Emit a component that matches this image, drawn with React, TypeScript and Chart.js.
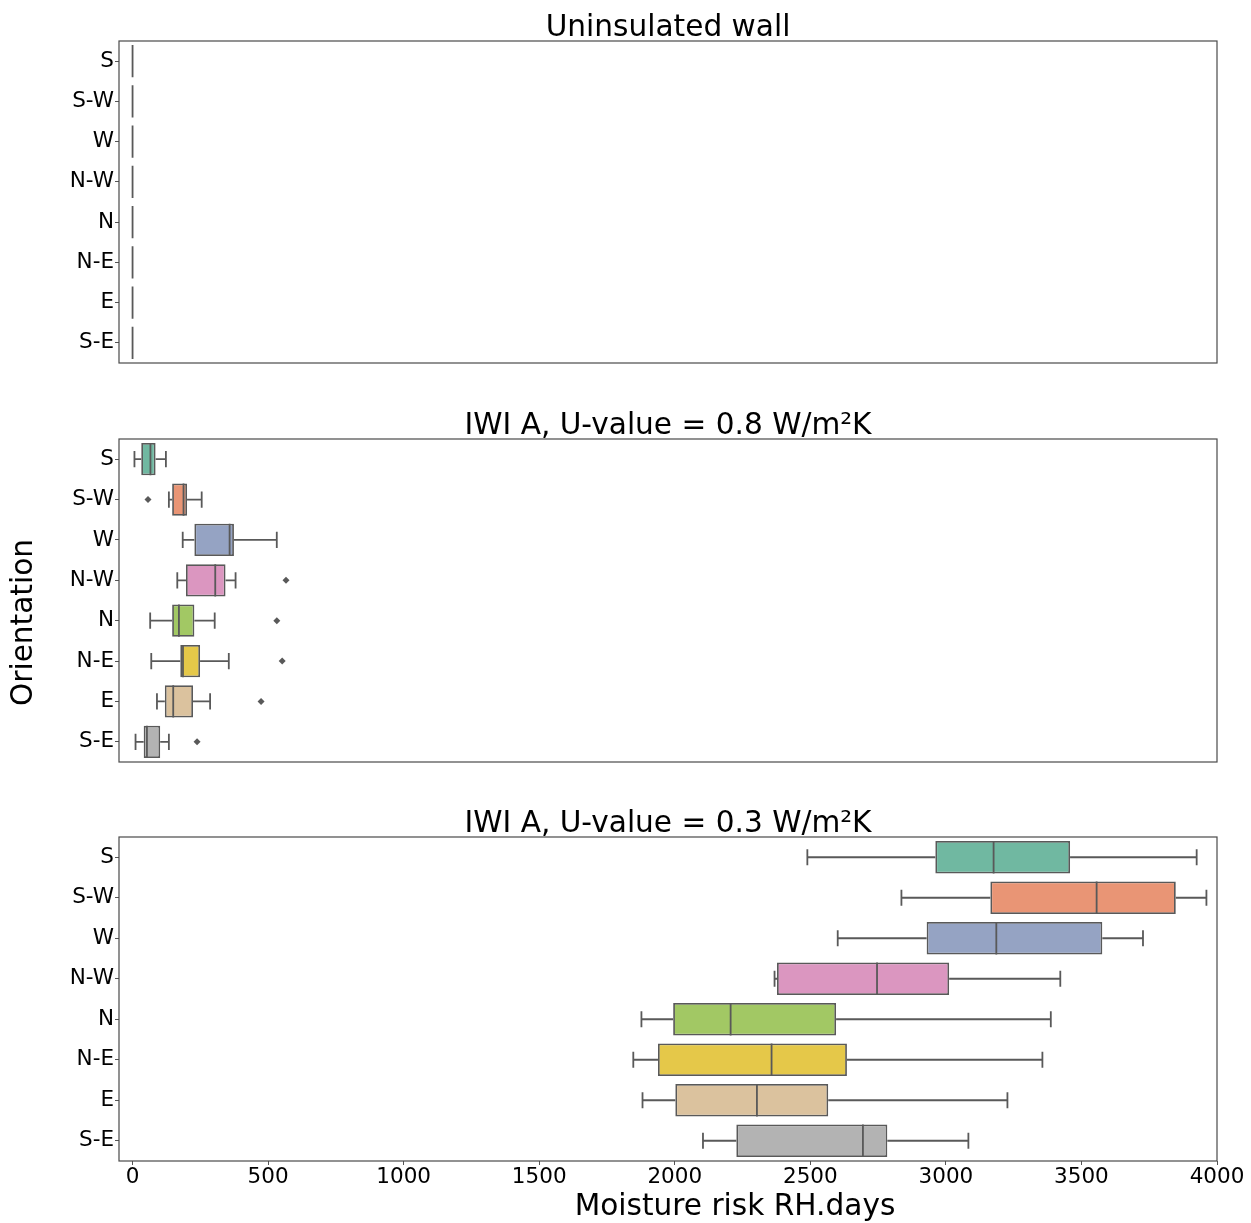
import { useEffect, useRef } from 'react';
import { Chart, registerables } from 'chart.js';

Chart.register(...registerables);

// Orientation categories, top to bottom
const orientations = ['S', 'S-W', 'W', 'N-W', 'N', 'N-E', 'E', 'S-E'];
const xTickValues = [0, 500, 1000, 1500, 2000, 2500, 3000, 3500, 4000];

// One colour per orientation (muted Set2)
const boxColors = ['#70b8a1', '#e99575', '#95a3c3', '#db96c0', '#a2c864', '#e5c849', '#dbc29e', '#b3b3b3'];

// Uninsulated wall: no moisture risk for any orientation
const uninsulatedLow = [0, 0, 0, 0, 0, 0, 0, 0];
const uninsulatedQ1 = [0, 0, 0, 0, 0, 0, 0, 0];
const uninsulatedMedian = [0, 0, 0, 0, 0, 0, 0, 0];
const uninsulatedQ3 = [0, 0, 0, 0, 0, 0, 0, 0];
const uninsulatedHigh = [0, 0, 0, 0, 0, 0, 0, 0];
const uninsulatedOutliers: number[][] = [[], [], [], [], [], [], [], []];

// IWI A, U-value 0.8 W/m²K
const iwi08Low = [7, 134, 185, 165, 65, 69, 90, 11];
const iwi08Q1 = [32, 146, 228, 197, 146, 176, 119, 41];
const iwi08Median = [66, 188, 358, 305, 171, 186, 150, 53];
const iwi08Q3 = [85, 201, 374, 343, 228, 249, 223, 102];
const iwi08High = [123, 255, 532, 380, 303, 355, 286, 134];
const iwi08Outliers: number[][] = [[], [57], [], [566], [532], [552], [474], [238]];

// IWI A, U-value 0.3 W/m²K
const iwi03Low = [2489, 2836, 2601, 2368, 1877, 1847, 1881, 2104];
const iwi03Q1 = [2961, 3164, 2929, 2377, 1994, 1938, 2002, 2227];
const iwi03Median = [3176, 3556, 3186, 2746, 2206, 2357, 2303, 2694];
const iwi03Q3 = [3458, 3848, 3577, 3012, 2595, 2635, 2566, 2784];
const iwi03High = [3925, 3961, 3727, 3422, 3387, 3356, 3227, 3083];
const iwi03Outliers: number[][] = [[], [], [], [], [], [], [], []];

const FONT = '"DejaVu Sans", "Liberation Sans", sans-serif';
const LINE = '#595959';
const SPINE = '#4a4a4a';
const BIG = 29.6;
const SMALL = 21.5;

type Panel = {
  title: string;
  low: number[];
  q1: number[];
  median: number[];
  q3: number[];
  high: number[];
  outliers: number[][];
};

const panels: Panel[] = [
  { title: 'Uninsulated wall', low: uninsulatedLow, q1: uninsulatedQ1, median: uninsulatedMedian, q3: uninsulatedQ3, high: uninsulatedHigh, outliers: uninsulatedOutliers },
  { title: 'IWI A, U-value = 0.8 W/m²K', low: iwi08Low, q1: iwi08Q1, median: iwi08Median, q3: iwi08Q3, high: iwi08High, outliers: iwi08Outliers },
  { title: 'IWI A, U-value = 0.3 W/m²K', low: iwi03Low, q1: iwi03Q1, median: iwi03Median, q3: iwi03Q3, high: iwi03High, outliers: iwi03Outliers },
];

type Frame = { top: number; height: number; showX: boolean; yLabel?: boolean; xLabel?: boolean };

const frames: Frame[] = [
  { top: 0, height: 370, showX: false },
  { top: 398, height: 371, showX: false, yLabel: true },
  { top: 796, height: 427, showX: true, xLabel: true },
];

function makeConfig(panel: Panel, frame: Frame): any {
  // Whiskers, caps, medians and the axes frame
  const boxPlugin = {
    id: 'boxWhiskers',
    afterDatasetsDraw(chart: any) {
      const { ctx, chartArea, scales } = chart;
      const x = scales.x;
      const y = scales.y;
      const band = Math.abs(y.getPixelForValue(1) - y.getPixelForValue(0));
      const boxHalf = band * 0.4;
      const capHalf = band * 0.2;
      ctx.save();
      ctx.strokeStyle = LINE;
      ctx.lineWidth = 1.8;
      ctx.lineCap = 'butt';
      panel.median.forEach((_, i) => {
        const yc = y.getPixelForValue(i);
        const xl = x.getPixelForValue(panel.low[i]);
        const x1 = x.getPixelForValue(panel.q1[i]);
        const xm = x.getPixelForValue(panel.median[i]);
        const x3 = x.getPixelForValue(panel.q3[i]);
        const xh = x.getPixelForValue(panel.high[i]);
        ctx.beginPath();
        ctx.moveTo(xl, yc);
        ctx.lineTo(x1, yc);
        ctx.moveTo(x3, yc);
        ctx.lineTo(xh, yc);
        ctx.moveTo(xl, yc - capHalf);
        ctx.lineTo(xl, yc + capHalf);
        ctx.moveTo(xh, yc - capHalf);
        ctx.lineTo(xh, yc + capHalf);
        ctx.moveTo(xm, yc - boxHalf);
        ctx.lineTo(xm, yc + boxHalf);
        ctx.stroke();
      });
      ctx.strokeStyle = SPINE;
      ctx.lineWidth = 1.2;
      ctx.strokeRect(chartArea.left, chartArea.top, chartArea.right - chartArea.left, chartArea.bottom - chartArea.top);
      ctx.restore();
    },
  };

  // Panel title and shared axis labels
  const textPlugin = {
    id: 'panelText',
    afterDraw(chart: any) {
      const { ctx, chartArea } = chart;
      ctx.save();
      ctx.fillStyle = '#000';
      ctx.font = `${BIG}px ${FONT}`;
      ctx.textAlign = 'center';
      ctx.textBaseline = 'alphabetic';
      ctx.fillText(panel.title, (chartArea.left + chartArea.right) / 2, chartArea.top - 5);
      if (frame.xLabel) {
        ctx.fillText('Moisture risk RH.days', (chartArea.left + chartArea.right) / 2 + 67, chartArea.bottom + 54);
      }
      if (frame.yLabel) {
        ctx.translate(32, (chartArea.top + chartArea.bottom) / 2 + 22);
        ctx.rotate(-Math.PI / 2);
        ctx.fillText('Orientation', 0, 0);
      }
      ctx.restore();
    },
  };

  const outlierPoints: { x: number; y: string }[] = [];
  panel.outliers.forEach((vals, i) => vals.forEach((v) => outlierPoints.push({ x: v, y: orientations[i] })));

  return {
    type: 'bar',
    data: {
      labels: orientations,
      datasets: [
        {
          type: 'bar',
          indexAxis: 'y',
          data: panel.q1.map((v, i) => [v, panel.q3[i]]),
          backgroundColor: boxColors,
          borderColor: LINE,
          borderWidth: 1.8,
          borderSkipped: false,
          barPercentage: 0.8,
          categoryPercentage: 1,
        },
        {
          type: 'scatter',
          data: outlierPoints,
          pointStyle: 'rectRot',
          radius: 3.5,
          backgroundColor: LINE,
          borderWidth: 0,
        },
      ],
    },
    options: {
      responsive: false,
      animation: false,
      indexAxis: 'y',
      layout: { padding: { top: 41, right: 34, bottom: frame.showX ? 0 : 7, left: 0 } },
      plugins: { legend: { display: false }, tooltip: { enabled: false }, title: { display: false } },
      scales: {
        x: {
          type: 'linear',
          min: -50,
          max: 4000,
          display: frame.showX,
          afterBuildTicks: (s: any) => {
            s.ticks = xTickValues.map((v) => ({ value: v }));
          },
          afterFit: (s: any) => {
            s.height = frame.showX ? 62 : 0;
          },
          grid: { drawOnChartArea: false, drawTicks: true, tickLength: 4, color: '#555', lineWidth: 1 },
          border: { display: false },
          ticks: {
            color: '#000',
            font: { family: FONT, size: SMALL },
            padding: 0,
            maxRotation: 0,
            autoSkip: false,
            callback: (v: any) => String(v),
          },
        },
        y: {
          type: 'category',
          labels: orientations,
          offset: true,
          afterFit: (s: any) => {
            s.width = 119;
            s.paddingTop = 0;
            s.paddingBottom = 0;
          },
          grid: { offset: false, drawOnChartArea: false, drawTicks: true, tickLength: 4, color: '#555', lineWidth: 1 },
          border: { display: false },
          ticks: { color: '#000', font: { family: FONT, size: SMALL }, padding: 1, autoSkip: false },
        },
      },
    },
    plugins: [boxPlugin, textPlugin],
  };
}

export default function App() {
  const canvases = useRef<(HTMLCanvasElement | null)[]>([]);

  useEffect(() => {
    const charts = panels.map((p, i) => new Chart(canvases.current[i] as HTMLCanvasElement, makeConfig(p, frames[i])));
    return () => charts.forEach((c) => c.destroy());
  }, []);

  return (
    <div style={{ position: 'absolute', left: 0, top: 0, width: 1251, height: 1223, background: '#fff' }}>
      {frames.map((f, i) => (
        <canvas
          key={i}
          ref={(el) => {
            canvases.current[i] = el;
          }}
          width={1251}
          height={f.height}
          style={{ position: 'absolute', left: 0, top: f.top, width: 1251, height: f.height }}
        />
      ))}
    </div>
  );
}
